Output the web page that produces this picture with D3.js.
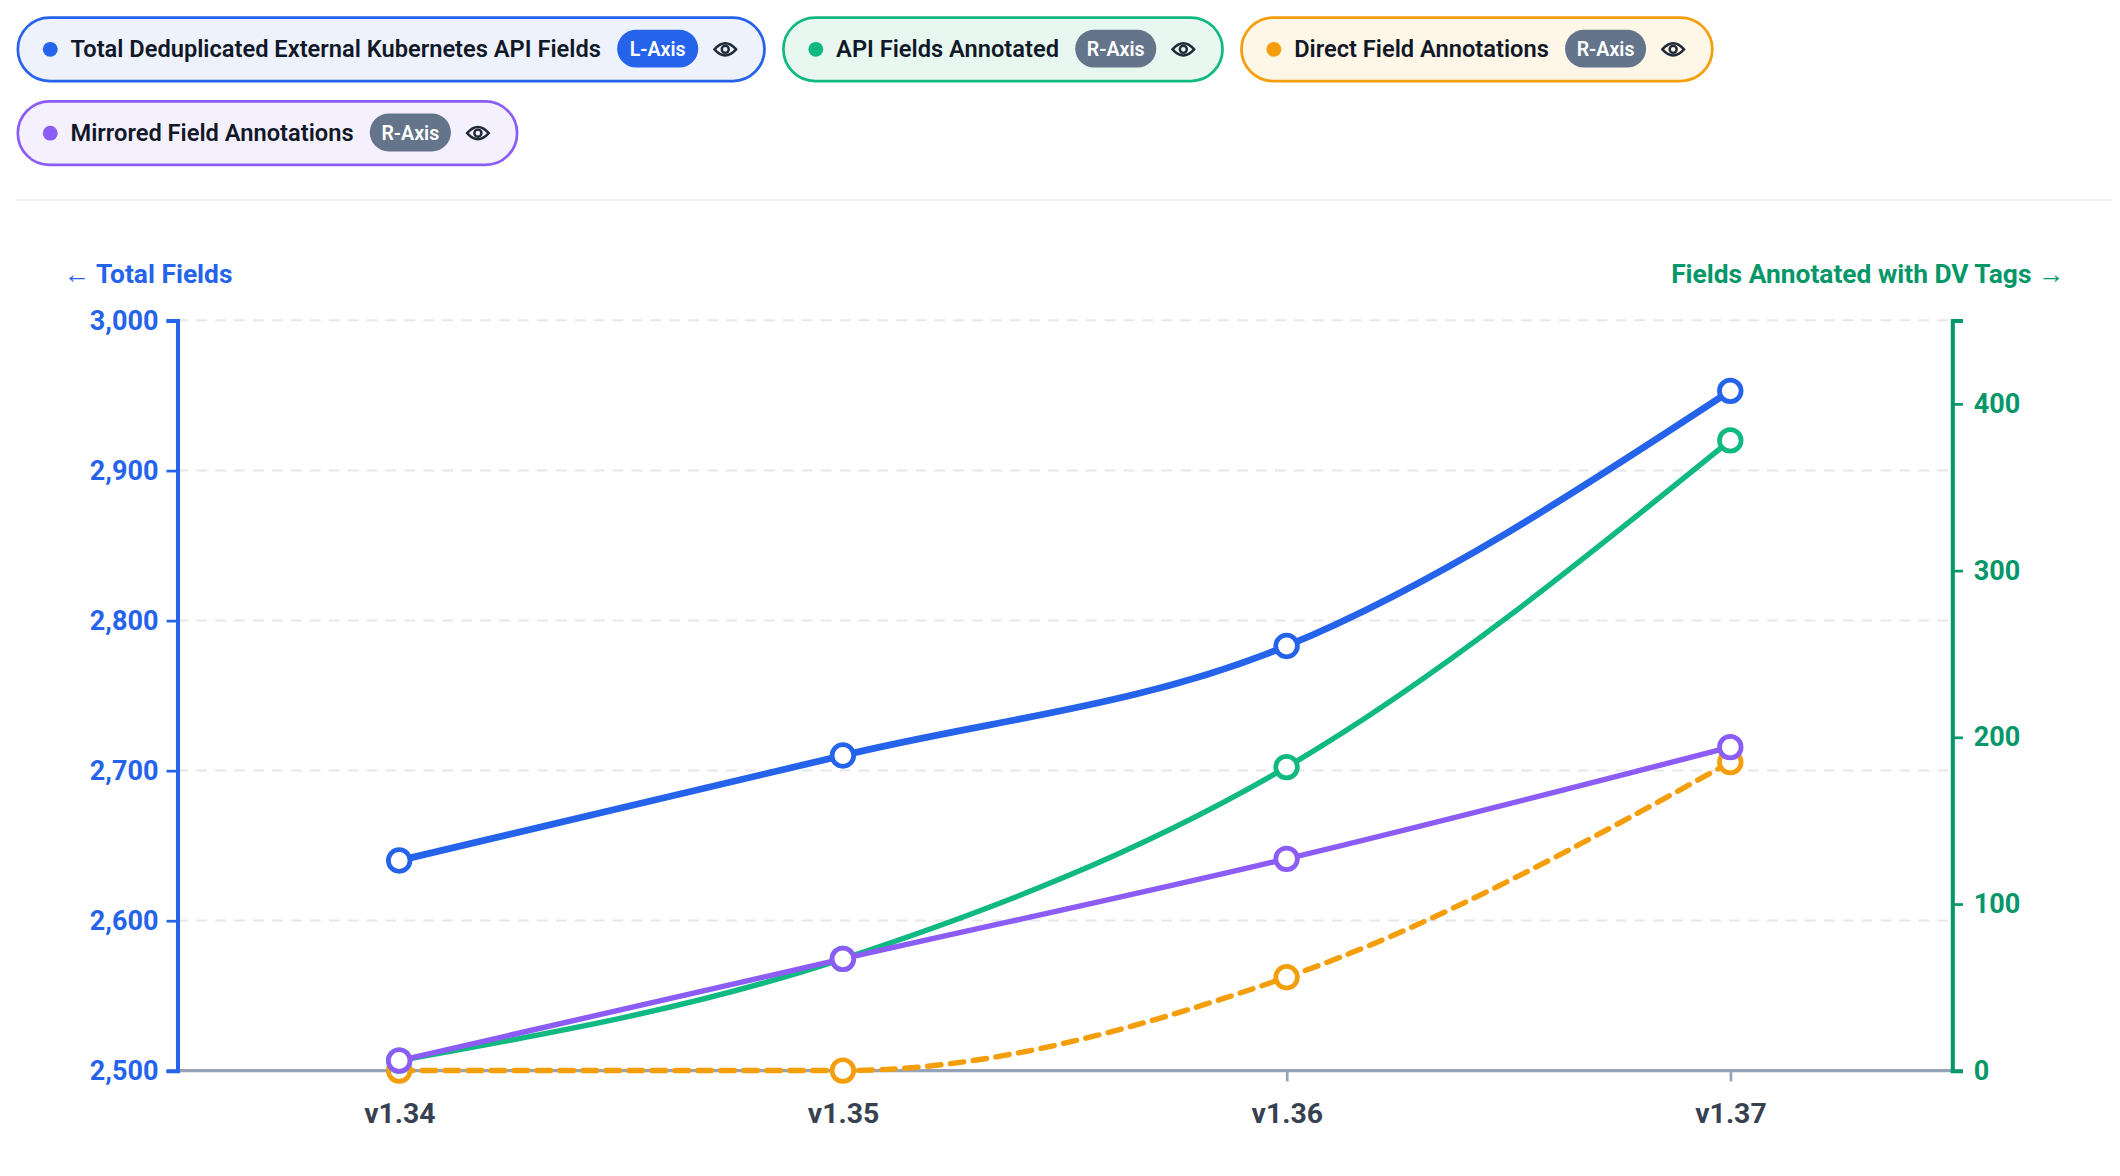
<!DOCTYPE html>
<html>
<head>
<meta charset="utf-8">
<script src="https://cdn.jsdelivr.net/npm/d3@7"></script>
<style>
  body { margin: 0; background: #fff; }
  svg { display: block; font-family: Roboto, "Noto Sans", sans-serif; }
</style>
</head>
<body>
<svg id="chart" width="2120" height="1176" viewBox="0 0 1568 870"></svg>
<script>
// data
var versions = ['v1.34', 'v1.35', 'v1.36', 'v1.37']
var totalFields = [2640, 2710, 2783, 2953]
var apiAnnotated = [6, 67, 182, 378]
var directAnnotations = [0, 0, 56, 185]
var mirroredAnnotations = [6, 67, 127, 194]
var leftTicks = [2500, 2600, 2700, 2800, 2900, 3000]
var rightTicks = [0, 100, 200, 300, 400]

var series = [
  { name: 'Total Deduplicated External Kubernetes API Fields', values: totalFields, axis: 'L-Axis', color: '#2563eb', bg: '#eef2fd', width: 5 },
  { name: 'API Fields Annotated', values: apiAnnotated, axis: 'R-Axis', color: '#10b981', bg: '#e8f8f1', width: 4 },
  { name: 'Direct Field Annotations', values: directAnnotations, axis: 'R-Axis', color: '#f59e0b', bg: '#fef6e7', width: 4, dash: '10,7' },
  { name: 'Mirrored Field Annotations', values: mirroredAnnotations, axis: 'R-Axis', color: '#8b5cf6', bg: '#f5f0fe', width: 4 }
]

var svg = d3.select('#chart')

// Legend pills, laid out in a flowing row
var lx = 12, ly = 12, maxW = 1400
series.forEach(function (s) {
  var g = svg.append('g')
  var t = g.append('text').attr('x', 40).attr('y', 30).attr('font-size', 17.5)
    .attr('font-weight', 600).attr('fill', '#111827').text(s.name)
  var tw = t.node().getComputedTextLength()
  var bx = 40 + tw + 12
  var b = g.append('text').attr('x', bx + 30).attr('y', 29.5).attr('text-anchor', 'middle')
    .attr('font-size', 14.5).attr('font-weight', 600).attr('fill', '#fff').text(s.axis)
  var w = bx + 60 + 48
  if (lx + w > maxW) { lx = 12; ly += 62 }
  g.attr('transform', 'translate(' + lx + ',' + ly + ')')
  g.insert('rect', 'text').attr('x', 1).attr('y', 1).attr('width', w).attr('height', 47)
    .attr('rx', 23.5).attr('fill', s.bg).attr('stroke', s.color).attr('stroke-width', 2)
  g.insert('circle', 'text').attr('cx', 25).attr('cy', 24.5).attr('r', 5.5).attr('fill', s.color)
  g.insert('rect', 'text').attr('x', bx).attr('y', 10).attr('width', 60).attr('height', 28)
    .attr('rx', 14).attr('fill', s.axis === 'L-Axis' ? '#2563eb' : '#64748b')
  var ex = bx + 80
  var eye = g.append('g').attr('transform', 'translate(' + ex + ',24.5)')
    .attr('fill', 'none').attr('stroke', '#1f2937').attr('stroke-width', 1.8)
  eye.append('path').attr('d', 'M-8,0 Q0,-9 8,0 Q0,9 -8,0 Z')
  eye.append('circle').attr('r', 2.6)
  b.raise()
  lx += w + 14
})

svg.append('line').attr('x1', 12).attr('x2', 1563).attr('y1', 148).attr('y2', 148)
  .attr('stroke', '#eef0f3').attr('stroke-width', 1.5)

var plotLeft = 131, plotRight = 1444, plotTop = 237, plotBottom = 792
var x = d3.scalePoint().domain(versions).range([plotLeft, plotRight]).padding(0.5)
var yL = d3.scaleLinear().domain([2500, 3000]).range([plotBottom, plotTop])
var yR = d3.scaleLinear().domain([0, 450]).range([plotBottom, plotTop])

// gridlines
svg.append('g').selectAll('line').data(leftTicks.slice(1)).enter().append('line')
  .attr('x1', plotLeft).attr('x2', plotRight)
  .attr('y1', function (d) { return yL(d) }).attr('y2', function (d) { return yL(d) })
  .attr('stroke', '#e5e7eb').attr('stroke-width', 1.5).attr('stroke-dasharray', '8,6')

// axis titles
svg.append('text').attr('x', 47).attr('y', 209).attr('font-size', 19.5).attr('font-weight', 700)
  .attr('fill', '#2563eb').text('← Total Fields')
svg.append('text').attr('x', 1527).attr('y', 209).attr('text-anchor', 'end').attr('font-size', 19.5)
  .attr('font-weight', 700).attr('fill', '#059669').text('Fields Annotated with DV Tags →')

// x axis
var gx = svg.append('g').attr('transform', 'translate(0,' + plotBottom + ')')
  .call(d3.axisBottom(x).tickSize(8).tickPadding(16))
gx.select('.domain').attr('d', 'M' + plotLeft + ',0H' + plotRight).attr('stroke', '#94a3b8').attr('stroke-width', 2.5)
gx.selectAll('.tick line').attr('stroke', '#94a3b8').attr('stroke-width', 2)
gx.selectAll('.tick text').attr('font-size', 21).attr('font-weight', 700).attr('fill', '#374151')
  .attr('font-family', 'Roboto, sans-serif')

// left axis
var gl = svg.append('g').attr('transform', 'translate(' + plotLeft + ',0)')
  .call(d3.axisLeft(yL).tickValues(leftTicks).tickFormat(d3.format(',')).tickSize(8).tickPadding(6))
gl.select('.domain').attr('stroke', '#2563eb').attr('stroke-width', 3)
gl.selectAll('.tick line').attr('stroke', '#2563eb').attr('stroke-width', 2)
gl.selectAll('.tick text').attr('font-size', 20).attr('font-weight', 700).attr('fill', '#2563eb')
  .attr('font-family', 'Roboto, sans-serif')

// right axis
var gr = svg.append('g').attr('transform', 'translate(' + plotRight + ',0)')
  .call(d3.axisRight(yR).tickValues(rightTicks).tickSize(8).tickPadding(8))
gr.select('.domain').attr('stroke', '#059669').attr('stroke-width', 3)
gr.selectAll('.tick line').attr('stroke', '#059669').attr('stroke-width', 2)
gr.selectAll('.tick text').attr('font-size', 20).attr('font-weight', 700).attr('fill', '#059669')
  .attr('font-family', 'Roboto, sans-serif')

// lines, drawn back to front
var order = [2, 1, 3, 0]
order.forEach(function (i) {
  var s = series[i]
  var y = s.axis === 'L-Axis' ? yL : yR
  var line = d3.line().curve(d3.curveMonotoneX)
    .x(function (d, j) { return x(versions[j]) })
    .y(function (d) { return y(d) })
  svg.append('path').datum(s.values).attr('d', line).attr('fill', 'none')
    .attr('stroke', s.color).attr('stroke-width', s.width)
    .attr('stroke-dasharray', s.dash || null).attr('stroke-linecap', 'round')
  svg.append('g').selectAll('circle').data(s.values).enter().append('circle')
    .attr('cx', function (d, j) { return x(versions[j]) })
    .attr('cy', function (d) { return y(d) })
    .attr('r', 8).attr('fill', '#fff').attr('stroke', s.color).attr('stroke-width', 3.5)
})
</script>
</body>
</html>
